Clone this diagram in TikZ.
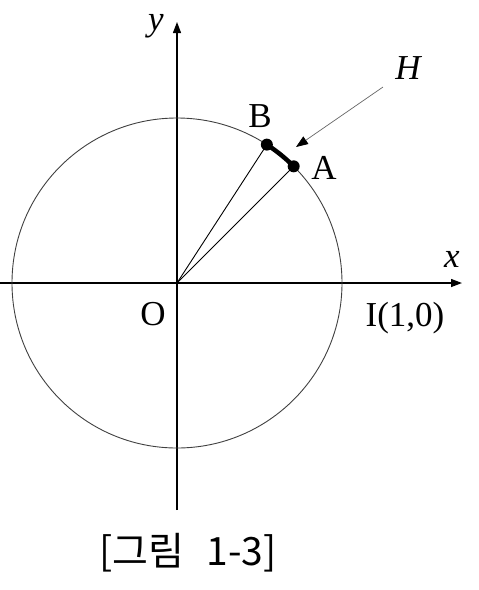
\documentclass[tikz,border=0pt]{standalone}
\usepackage{fontspec}
\setmainfont{Liberation Serif}
\newfontfamily\cjk{Noto Sans CJK KR}
\usetikzlibrary{arrows.meta,calc}
\begin{document}
\begin{tikzpicture}[x=1pt,y=-1pt,
  axis/.style={line width=1.3pt,-{Triangle[length=11pt,width=8pt]}},
  circ/.style={line width=0.9pt,black!75},
  radial/.style={line width=0.9pt},
  dotpt/.style={circle,fill=black,inner sep=0pt,minimum size=12pt},
  lbl/.style={font=\fontsize{35}{38}\selectfont,inner sep=0pt},
  ilbl/.style={font=\itshape\fontsize{35}{38}\selectfont,inner sep=0pt},
  harrow/.style={line width=0.7pt,black!60,-{Triangle[length=12pt,width=9pt,color=black]}}]
\useasboundingbox (0,0) rectangle (479,590);
\coordinate (O) at (177,283);
\coordinate (xl) at (0,283);
\coordinate (xr) at (462,283);
\coordinate (yb) at (177,510);
\coordinate (yt) at (177,22);
\draw[axis] (xl) -- (xr);
\draw[axis] (yb) -- (yt);
\draw[circ] (O) circle[radius=165];
\node[dotpt] (A) at ($(O)+(-45:165)$) {};
\node[dotpt] (B) at ($(O)+(-57:165)$) {};
\draw[radial] (O) -- (A.center);
\draw[radial] (O) -- (B.center);
\draw[line width=4.5pt] (A.center) arc[start angle=-45,end angle=-57,radius=165];
\coordinate (Hs) at (383,87);
\coordinate (Ht) at (296,147);
\draw[harrow] (Hs) -- (Ht);
\node[ilbl] (H) at (408,68) {H};
\node[lbl] (Bl) at (260,116) {B};
\node[lbl] (Al) at (324,168) {A};
\node[lbl] (Ol) at (153,314) {O};
\node[lbl] (Il) at (405,318) {I(1,0)};
\node[ilbl] (xlab) at (452,259) {x};
\node[ilbl] (ylab) at (156,26) {y};
\node[inner sep=0pt,font=\cjk\fontsize{39}{42}\selectfont] (cap) at (188,553) {[그림\hspace*{22pt}1-3]};
\end{tikzpicture}
\end{document}
